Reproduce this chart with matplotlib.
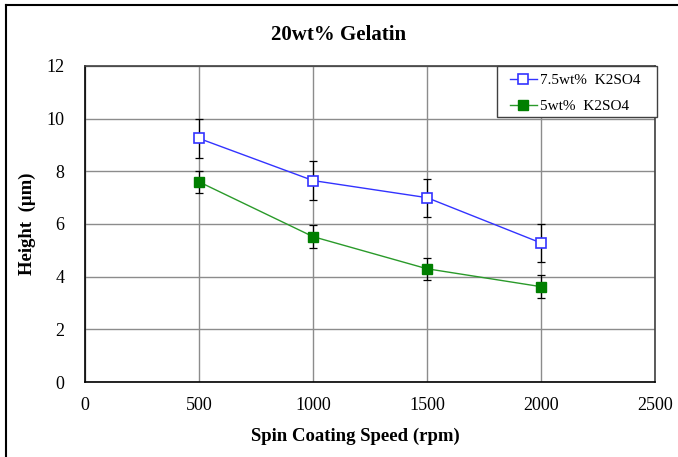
import numpy as np
import matplotlib.pyplot as plt
import matplotlib as mpl
from matplotlib.lines import Line2D
from matplotlib.patches import Rectangle

mpl.rcParams.update({
    "font.family": ["Liberation Serif", "DejaVu Serif"],
})

# data
speed = [500, 1000, 1500, 2000]
h_75 = [9.25, 7.65, 7.0, 5.28]
err_75 = [0.73, 0.74, 0.72, 0.72]
h_5 = [7.6, 5.52, 4.3, 3.62]
err_5 = [0.43, 0.44, 0.42, 0.44]

fig = plt.figure(figsize=(6.78, 4.57), dpi=100)
ax = fig.add_axes([0.1254, 0.1641, 0.8407, 0.6915])

# outer frame (left + top only visible)
fig.add_artist(Line2D([0.0095, 0.0095], [0, 0.989], transform=fig.transFigure, color="black", lw=1.5))
fig.add_artist(Line2D([0.0095, 1.0], [0.989, 0.989], transform=fig.transFigure, color="black", lw=1.5))

ax.errorbar(speed, h_75, yerr=err_75, fmt="none", ecolor="black", elinewidth=0.9, capsize=3, capthick=0.9, zorder=3)
ax.errorbar(speed, h_5, yerr=err_5, fmt="none", ecolor="black", elinewidth=0.9, capsize=3, capthick=0.9, zorder=3)

ax.plot(speed, h_75, color="#3333ff", lw=1, marker="s", markersize=7,
        markerfacecolor="white", markeredgecolor="#3333ff", markeredgewidth=1.2,
        label="7.5wt%  K2SO4", zorder=4)
ax.plot(speed, h_5, color="#2a9a2a", lw=1, marker="s", markersize=7,
        markerfacecolor="#007f00", markeredgecolor="#007f00",
        label="5wt%  K2SO4", zorder=4)

ax.set_xlim(0, 2500)
ax.set_ylim(0, 12)
ax.set_xticks(np.arange(0, 2501, 500))
ax.set_yticks(np.arange(0, 13, 2))
ax.tick_params(axis="both", labelsize=13, length=0)
ax.tick_params(axis="y", pad=15)
ax.tick_params(axis="x", pad=11)

ax.grid(True, color="#8c8c8c", lw=1)
ax.set_axisbelow(True)
for side in ["top", "right"]:
    ax.spines[side].set_color("#404040")
for side in ["left", "bottom"]:
    ax.spines[side].set_color("black")
for s in ax.spines.values():
    s.set_linewidth(1.2)

ax.set_title("20wt% Gelatin", fontsize=15, fontweight="bold", pad=19, x=0.4456)
ax.set_xlabel("Spin Coating Speed (rpm)", fontsize=13.5, fontweight="bold", labelpad=10, x=0.475)
ax.set_ylabel("Height  (\u03bcm)", fontsize=13.5, fontweight="bold", labelpad=7)

# legend box drawn separately so padding matches
ax.add_patch(Rectangle((0.7228, 0.8386), 0.2807, 0.1614, transform=ax.transAxes,
                       facecolor="white", edgecolor="#404040", lw=1, zorder=5, clip_on=False))
leg = ax.legend(loc="upper left", bbox_to_anchor=(0.7456, 0.977), fontsize=11,
                frameon=False, handlelength=1.75, handletextpad=0.2,
                borderpad=0, labelspacing=0.8, borderaxespad=0)
leg.set_zorder(6)

fig.savefig("out.png", dpi=100)
